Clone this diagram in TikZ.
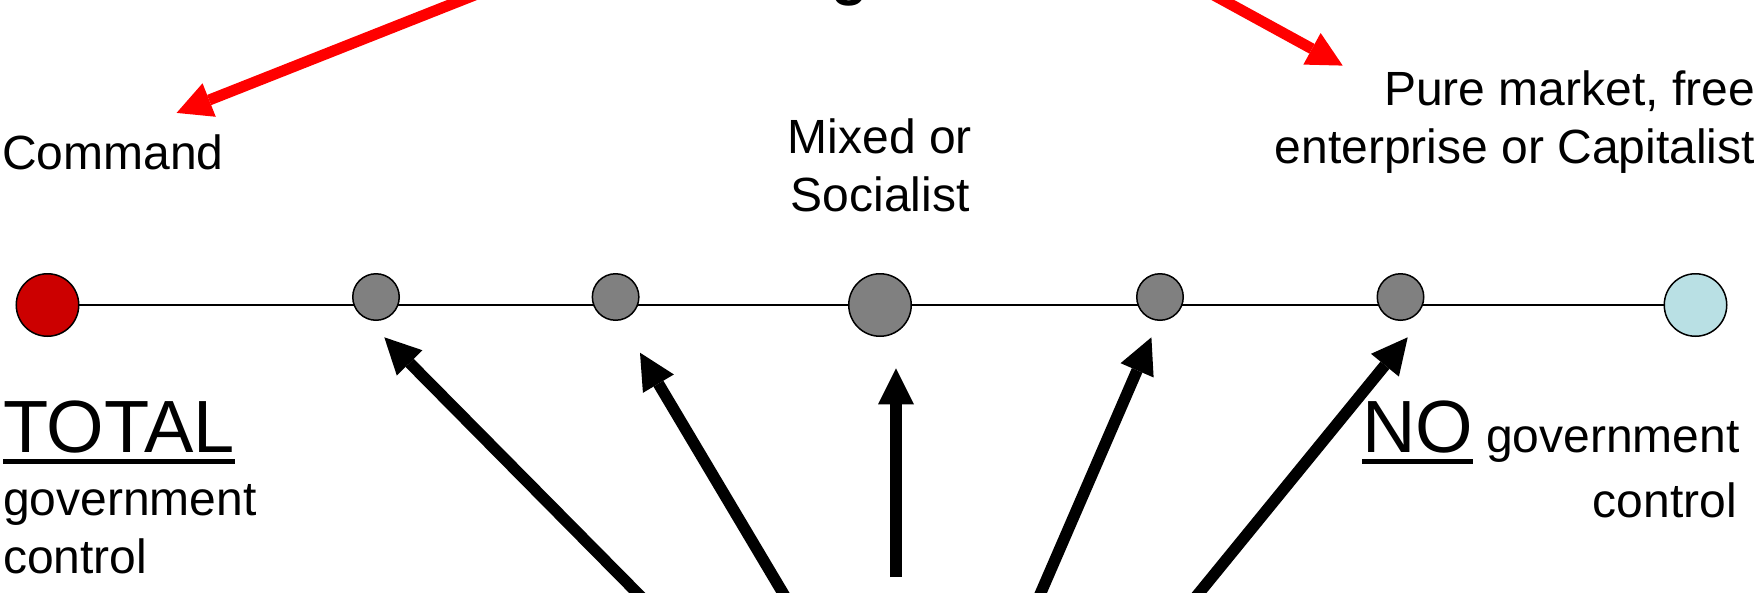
\documentclass[tikz,border=0pt]{standalone}
\usepackage{fontspec}
\setmainfont{Liberation Sans}
\usetikzlibrary{arrows.meta,backgrounds}
\definecolor{arrowred}{RGB}{255,0,0}
\definecolor{cmdred}{RGB}{204,0,0}
\definecolor{midgray}{RGB}{128,128,128}
\definecolor{freecyan}{RGB}{185,224,228}
\begin{document}
\begin{tikzpicture}[x=1pt,y=-1pt,
  dot/.style={circle,draw=black,line width=1.5pt,inner sep=0pt},
  bigdot/.style={dot,minimum size=62.5pt},
  smalldot/.style={dot,minimum size=46.5pt},
  lbl/.style={inner sep=0pt,outer sep=0pt,font=\fontsize{48}{58}\selectfont},
  biglbl/.style={inner sep=0pt,outer sep=0pt,font=\fontsize{74}{80}\selectfont},
  redarrow/.style={draw=arrowred,line width=11pt,-{Triangle[length=35pt,width=36pt,line width=0pt]}},
  blackarrow/.style={draw=black,line width=11.5pt,-{Triangle[length=36pt,width=36pt,line width=0pt]}},
  uline/.style={line width=5pt}
]
\useasboundingbox (0,0) rectangle (1759,592);
\clip (0,0) rectangle (1759,592);

% title (only the descender of one letter is visible)
\node[inner sep=0pt,anchor=base,font=\fontsize{60}{72}\selectfont\bfseries] (title) at (850,-7) {g};

% scale of systems
\node[bigdot,fill=cmdred] (c1) at (47.5,305) {};
\node[smalldot,fill=midgray] (c2) at (376,297) {};
\node[smalldot,fill=midgray] (c3) at (615.6,297) {};
\node[bigdot,fill=midgray] (c4) at (880,305) {};
\node[smalldot,fill=midgray] (c5) at (1160,297) {};
\node[smalldot,fill=midgray] (c6) at (1400.5,297) {};
\node[bigdot,fill=freecyan] (c7) at (1695.5,305) {};
\begin{scope}[on background layer]
  \draw[line width=1.4pt] (c1.center) -- (c7.center);
\end{scope}

% labels
\node[lbl,anchor=base west] (cmd) at (2,169) {Command};
\node[lbl,anchor=base] (mixed) at (880,153) {\begin{tabular}[t]{@{}c@{}}Mixed or\\Socialist\end{tabular}};
\node[lbl,anchor=base east] (pure) at (1755,105) {\begin{tabular}[t]{@{}r@{}}Pure market, free\\enterprise or Capitalist\end{tabular}};

\node[biglbl,anchor=base west] (total) at (3,452) {TOTAL};
\draw[uline] ([yshift=-9.5pt]total.base west) -- ([yshift=-9.5pt]total.base east);
\node[lbl,anchor=base west] (tgov) at (3,515) {\begin{tabular}[t]{@{}l@{}}government\\control\end{tabular}};

\node[biglbl,anchor=base west] (no) at (1362,452) {NO};
\draw[uline] ([yshift=-9.5pt]no.base west) -- ([yshift=-9.5pt]no.base east);
\node[lbl,anchor=base west] (ngov) at (1486,452) {government};
\node[lbl,anchor=base east] (nctl) at (1737,517) {control};

% red arrows from the title
\coordinate (tl) at (538,-30);
\coordinate (cmdtip) at (176.6,112.9);
\coordinate (tr) at (1168,-30);
\coordinate (puretip) at (1342.7,65.6);
\draw[redarrow] (tl) -- (cmdtip);
\draw[redarrow] (tr) -- (puretip);

% black arrows from below
\coordinate (a1) at (664,620);   \coordinate (t1) at (384.3,337.3);
\coordinate (a2) at (799,620);   \coordinate (t2) at (640,352.7);
\coordinate (a3) at (896,577);   \coordinate (t3) at (896,368.3);
\coordinate (a4) at (1029,620);  \coordinate (t4) at (1151.4,337.3);
\coordinate (a5) at (1177,620);  \coordinate (t5) at (1407.7,337.3);
\draw[blackarrow] (a1) -- (t1);
\draw[blackarrow] (a2) -- (t2);
\draw[blackarrow] (a3) -- (t3);
\draw[blackarrow] (a4) -- (t4);
\draw[blackarrow] (a5) -- (t5);
\end{tikzpicture}
\end{document}
